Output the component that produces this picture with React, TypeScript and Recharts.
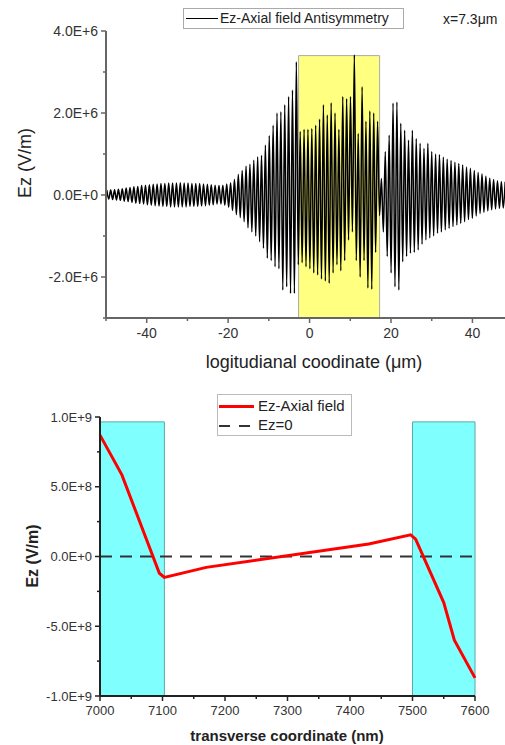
import React from "react";
import { LineChart, Line, XAxis, YAxis, ReferenceArea } from "recharts";

// ---- top panel: axial field vs longitudinal coordinate ----
const crestStart = -49.8; // µm, first crest
const period = 0.95; // µm between crests

// crest heights, 1E6 V/m, one per period
const crests = [
  0.12, 0.12, 0.13, 0.14, 0.15, 0.17, 0.18, 0.2, 0.21, 0.23,
  0.24, 0.25, 0.26, 0.27, 0.28, 0.28, 0.29, 0.29, 0.29, 0.3,
  0.29, 0.29, 0.28, 0.28, 0.28, 0.27, 0.26, 0.25, 0.24, 0.23,
  0.24, 0.27, 0.3, 0.38, 0.5, 0.6, 0.7, 0.75, 0.85, 0.93,
  0.97, 1.22, 1.45, 1.7, 2.0, 2.03, 2.2, 2.4, 2.56, 3.25,
  1.55, 1.6, 1.6, 1.62, 1.7, 1.85, 2.2, 1.95, 2.25, 2.0,
  1.6, 2.4, 2.35, 2.4, 3.42, 1.5, 2.64, 1.8, 2.05, 2.0,
  1.8, 0.4, 1.06, 1.46, 2.24, 2.27, 1.75, 1.58, 1.34, 1.58,
  1.38, 1.26, 1.14, 1.26, 1.06, 1.0, 0.98, 0.92, 0.87, 0.84,
  0.8, 0.77, 0.73, 0.68, 0.65, 0.6, 0.55, 0.51, 0.46, 0.41,
  0.38, 0.35, 0.33, 0.32,
];

// trough depths, 1E6 V/m, half a period after each crest
const troughs = [
  0.1, 0.11, 0.12, 0.13, 0.15, 0.16, 0.18, 0.2, 0.21, 0.22,
  0.24, 0.25, 0.26, 0.27, 0.28, 0.28, 0.29, 0.29, 0.29, 0.29,
  0.29, 0.28, 0.28, 0.28, 0.27, 0.26, 0.25, 0.24, 0.22, 0.22,
  0.25, 0.3, 0.38, 0.48, 0.55, 0.65, 0.8, 0.9, 1.0, 1.14,
  1.3, 1.54, 1.6, 1.75, 1.8, 2.32, 2.24, 2.4, 2.4, 1.7,
  1.65, 1.75, 1.8, 1.9, 1.95, 2.05, 2.1, 2.15, 1.9, 1.7,
  1.85, 1.6, 1.1, 0.9, 1.6, 2.0, 1.6, 2.27, 2.3, 1.4,
  0.5, 0.9, 1.5, 1.9, 2.24, 2.32, 1.63, 1.5, 1.42, 1.4,
  1.34, 1.2, 1.1, 1.05, 1.0, 0.93, 0.9, 0.85, 0.81, 0.77,
  0.73, 0.69, 0.65, 0.6, 0.57, 0.51, 0.45, 0.42, 0.39, 0.36,
  0.34, 0.33, 0.32,
];

const topXTicks = [-50, -40, -30, -20, -10, 0, 10, 20, 30, 40];
const topYTicks = [-3e6, -2e6, -1e6, 0, 1e6, 2e6, 3e6, 4e6];
const highlightZ = [-2.7, 17.2];
const highlightTop = 3.4e6;

// ---- bottom panel: field across the transverse coordinate ----
const transverseNm = [7000, 7035, 7095, 7103, 7170, 7430, 7497, 7505, 7550, 7567, 7600];
const axialField = [8.7e8, 5.85e8, -1.2e8, -1.5e8, -0.78e8, 0.9e8, 1.55e8, 1.25e8, -3.3e8, -6.0e8, -8.7e8];
const bottomXTicks = [7000, 7050, 7100, 7150, 7200, 7250, 7300, 7350, 7400, 7450, 7500, 7550, 7600];
const bottomYTicks = [-1e9, -7.5e8, -5e8, -2.5e8, 0, 2.5e8, 5e8, 7.5e8, 1e9];
const cyanBands = [
  [7000, 7103],
  [7500, 7600],
];
const cyanTop = 9.65e8;

const axialPoints: { z: number; ez: number }[] = [];
crests.forEach((c, i) => {
  axialPoints.push({ z: crestStart + i * period, ez: c * 1e6 });
  if (i < troughs.length) {
    axialPoints.push({ z: crestStart + (i + 0.5) * period, ez: -troughs[i] * 1e6 });
  }
});

const fieldPoints = transverseNm.map((x, i) => ({ x, ez: axialField[i] }));
const zeroPoints = [
  { x: 7000, ez: 0 },
  { x: 7600, ez: 0 },
];

const FONT = "'Liberation Sans', Arial, sans-serif";
const TICK_SIZE = 6;
const TICK_MARGIN = 3;

function sci(v: number, exp: number) {
  if (v === 0) return "0.0E+0";
  return `${(v / Math.pow(10, exp)).toFixed(1)}E+${exp}`;
}

function makeTick(
  side: "left" | "bottom",
  isMajor: (v: number) => boolean,
  fmt: (v: number) => string,
  color: string,
  lineColor: string,
  fontSize: number
) {
  return (p: any) => {
    const v = p.payload.value;
    const major = isMajor(v);
    const len = major ? 5 : 3;
    if (side === "left") {
      const ax = p.x + TICK_SIZE + TICK_MARGIN;
      return (
        <g>
          <line x1={ax - len} x2={ax} y1={p.y} y2={p.y} stroke={lineColor} strokeWidth={1.5} />
          {major && (
            <text x={ax - 8} y={p.y} dy="0.35em" textAnchor="end" fill={color} fontSize={fontSize} fontFamily={FONT}>
              {fmt(v)}
            </text>
          )}
        </g>
      );
    }
    const ay = p.y - TICK_SIZE - TICK_MARGIN;
    return (
      <g>
        <line x1={p.x} x2={p.x} y1={ay} y2={ay + len} stroke={lineColor} strokeWidth={1.5} />
        {major && (
          <text x={p.x} y={ay + 9} dy="0.8em" textAnchor="middle" fill={color} fontSize={fontSize} fontFamily={FONT}>
            {fmt(v)}
          </text>
        )}
      </g>
    );
  };
}

function TopPanel() {
  return (
    <div style={{ position: "absolute", left: 0, top: 0, width: 505, height: 370 }}>
      <LineChart width={505} height={370} data={axialPoints} margin={{ top: 31, right: 0, bottom: 22, left: 0 }}>
        <XAxis
          dataKey="z"
          type="number"
          domain={[-50, 48]}
          allowDataOverflow
          ticks={topXTicks}
          interval={0}
          height={30}
          tickSize={TICK_SIZE}
          tickMargin={TICK_MARGIN}
          tickLine={false}
          axisLine={{ stroke: "#666", strokeWidth: 2 }}
          tick={makeTick("bottom", (v) => v % 20 === 0, (v) => String(v), "#333", "#666", 14)}
        />
        <YAxis
          type="number"
          domain={[-3e6, 4e6]}
          allowDataOverflow
          ticks={topYTicks}
          interval={0}
          width={106}
          tickSize={TICK_SIZE}
          tickMargin={TICK_MARGIN}
          tickLine={false}
          axisLine={{ stroke: "#666", strokeWidth: 2 }}
          tick={makeTick("left", (v) => Math.round(v / 1e6) % 2 === 0, (v) => sci(v, 6), "#333", "#666", 14)}
        />
        <ReferenceArea
          x1={highlightZ[0]}
          x2={highlightZ[1]}
          y1={-3e6}
          y2={highlightTop}
          fill="#ffff80"
          fillOpacity={1}
          stroke="#aaa"
          strokeWidth={1}
        />
        <Line dataKey="ez" type="monotone" stroke="#000" strokeWidth={1.5} dot={false} isAnimationActive={false} />
      </LineChart>

      <div
        style={{
          position: "absolute",
          left: 183,
          top: 8,
          width: 219,
          height: 19,
          border: "1px solid #aaa",
          background: "#fff",
          fontFamily: FONT,
          fontSize: 14,
          color: "#222",
        }}
      >
        <div style={{ position: "absolute", left: 2, top: 9, width: 32, height: 1.3, background: "#000" }} />
        <div style={{ position: "absolute", left: 36, top: 1, whiteSpace: "nowrap" }}>Ez-Axial field Antisymmetry</div>
      </div>
      <div style={{ position: "absolute", left: 443, top: 11, fontFamily: FONT, fontSize: 14, color: "#222" }}>
        x=7.3μm
      </div>

      <div
        style={{
          position: "absolute",
          left: 25,
          top: 163,
          transform: "translate(-50%, -50%) rotate(-90deg)",
          fontFamily: FONT,
          fontSize: 18,
          color: "#222",
          whiteSpace: "nowrap",
        }}
      >
        Ez (V/m)
      </div>
      <div
        style={{
          position: "absolute",
          left: 314,
          top: 362,
          transform: "translate(-50%, -50%)",
          fontFamily: FONT,
          fontSize: 18,
          color: "#222",
          whiteSpace: "nowrap",
        }}
      >
        logitudianal coodinate (μm)
      </div>
    </div>
  );
}

function BottomPanel() {
  return (
    <div style={{ position: "absolute", left: 0, top: 380, width: 505, height: 365 }}>
      <LineChart width={505} height={365} margin={{ top: 37, right: 30, bottom: 19, left: 0 }}>
        <XAxis
          dataKey="x"
          type="number"
          domain={[7000, 7600]}
          ticks={bottomXTicks}
          interval={0}
          height={30}
          tickSize={TICK_SIZE}
          tickMargin={TICK_MARGIN}
          tickLine={false}
          axisLine={{ stroke: "#222", strokeWidth: 2 }}
          tick={makeTick("bottom", (v) => v % 100 === 0, (v) => String(v), "#333", "#222", 13)}
        />
        <YAxis
          type="number"
          domain={[-1e9, 1e9]}
          allowDataOverflow
          ticks={bottomYTicks}
          interval={0}
          width={100}
          tickSize={TICK_SIZE}
          tickMargin={TICK_MARGIN}
          tickLine={false}
          axisLine={{ stroke: "#222", strokeWidth: 2 }}
          tick={makeTick(
            "left",
            (v) => Math.round(v / 2.5e8) % 2 === 0,
            (v) => (Math.abs(v) === 1e9 ? sci(v, 9) : sci(v, 8)),
            "#333",
            "#222",
            13
          )}
        />
        {cyanBands.map(([a, b]) => (
          <ReferenceArea
            key={a}
            x1={a}
            x2={b}
            y1={-1e9}
            y2={cyanTop}
            fill="#80ffff"
            fillOpacity={1}
            stroke="#5aa8a8"
            strokeWidth={1}
          />
        ))}
        <Line
          data={zeroPoints}
          dataKey="ez"
          type="linear"
          stroke="#333"
          strokeWidth={2}
          strokeDasharray="12 8"
          dot={false}
          isAnimationActive={false}
        />
        <Line
          data={fieldPoints}
          dataKey="ez"
          type="linear"
          stroke="#ff0000"
          strokeWidth={3}
          dot={false}
          isAnimationActive={false}
        />
      </LineChart>

      <div
        style={{
          position: "absolute",
          left: 217,
          top: 14,
          width: 133,
          height: 40,
          border: "1px solid #bbb",
          background: "#fff",
          fontFamily: FONT,
          fontSize: 15,
          color: "#222",
        }}
      >
        <div style={{ position: "absolute", left: 1, top: 10, width: 35, height: 3, background: "#ff0000" }} />
        <div style={{ position: "absolute", left: 40, top: 2, whiteSpace: "nowrap" }}>Ez-Axial field</div>
        <div style={{ position: "absolute", left: 1, top: 30, width: 11, height: 2, background: "#333" }} />
        <div style={{ position: "absolute", left: 21, top: 30, width: 11, height: 2, background: "#333" }} />
        <div style={{ position: "absolute", left: 40, top: 21, whiteSpace: "nowrap" }}>Ez=0</div>
      </div>

      <div
        style={{
          position: "absolute",
          left: 33,
          top: 176,
          transform: "translate(-50%, -50%) rotate(-90deg)",
          fontFamily: FONT,
          fontSize: 16,
          fontWeight: "bold",
          color: "#222",
          whiteSpace: "nowrap",
        }}
      >
        Ez (V/m)
      </div>
      <div
        style={{
          position: "absolute",
          left: 287,
          top: 355,
          transform: "translate(-50%, -50%)",
          fontFamily: FONT,
          fontSize: 15,
          fontWeight: "bold",
          color: "#222",
          whiteSpace: "nowrap",
        }}
      >
        transverse coordinate (nm)
      </div>
    </div>
  );
}

export default function App() {
  return (
    <div style={{ position: "absolute", left: 0, top: 0, width: 505, height: 745, background: "#fff", overflow: "hidden" }}>
      <TopPanel />
      <BottomPanel />
    </div>
  );
}
